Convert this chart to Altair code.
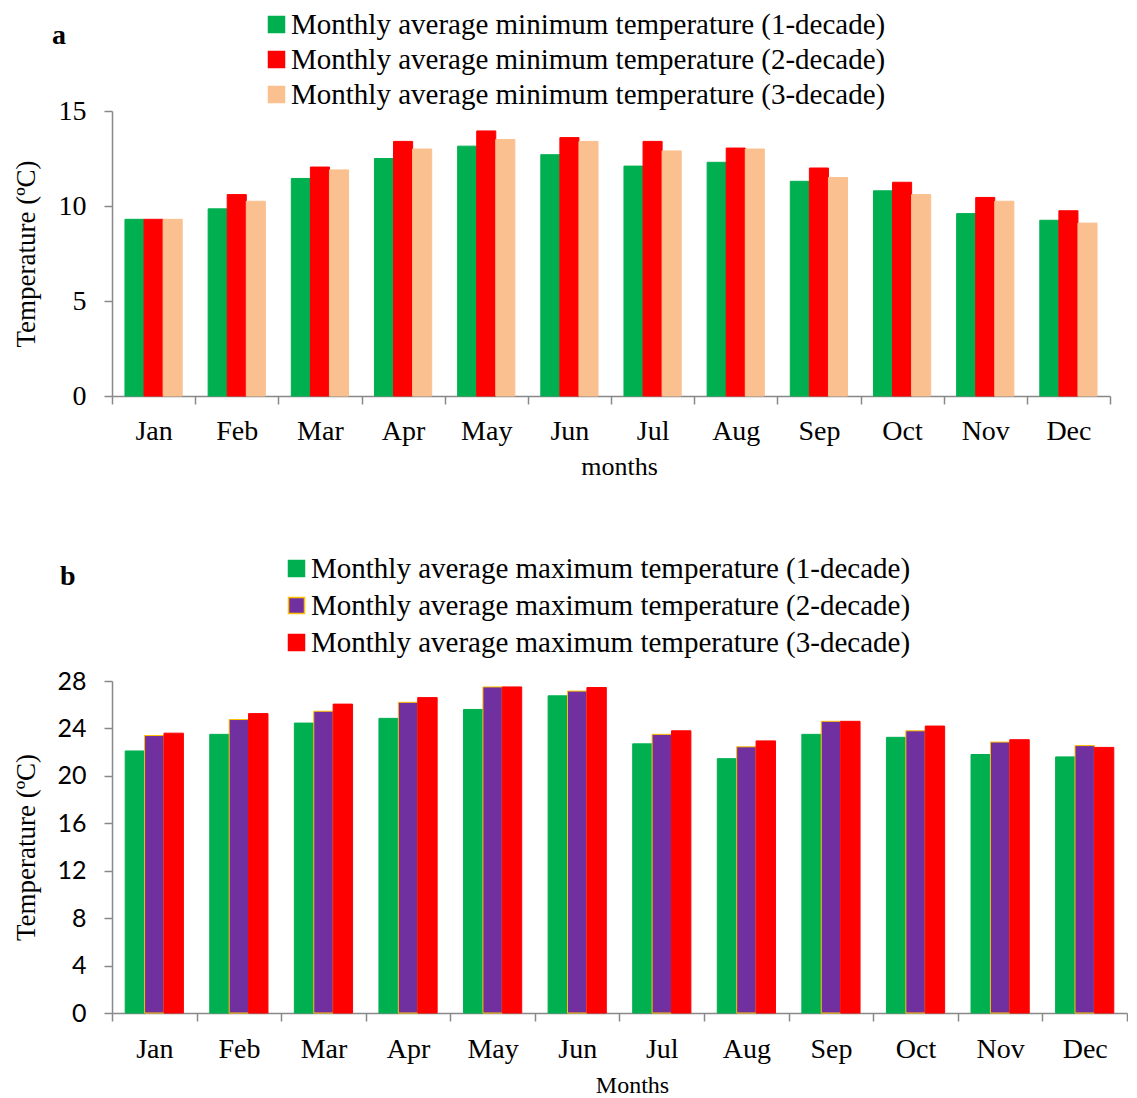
import altair as alt
import pandas as pd

months = ["Jan", "Feb", "Mar", "Apr", "May", "Jun", "Jul", "Aug", "Sep", "Oct", "Nov", "Dec"]

min_series = [
    "Monthly average minimum temperature (1-decade)",
    "Monthly average minimum temperature (2-decade)",
    "Monthly average minimum temperature (3-decade)",
]
min_1 = [9.3, 9.85, 11.45, 12.5, 13.15, 12.7, 12.1, 12.3, 11.3, 10.8, 9.6, 9.25]
min_2 = [9.3, 10.6, 12.05, 13.4, 13.95, 13.6, 13.4, 13.05, 12.0, 11.25, 10.45, 9.75]
min_3 = [9.3, 10.25, 11.9, 13.0, 13.5, 13.4, 12.9, 13.0, 11.5, 10.6, 10.25, 9.1]

max_series = [
    "Monthly average maximum temperature (1-decade)",
    "Monthly average maximum temperature (2-decade)",
    "Monthly average maximum temperature (3-decade)",
]
max_1 = [22.1, 23.5, 24.45, 24.85, 25.6, 26.75, 22.7, 21.45, 23.5, 23.25, 21.8, 21.6]
max_2 = [23.4, 24.75, 25.45, 26.2, 27.5, 27.15, 23.5, 22.45, 24.6, 23.8, 22.85, 22.55]
max_3 = [23.6, 25.25, 26.05, 26.6, 27.5, 27.45, 23.8, 22.95, 24.6, 24.2, 23.05, 22.4]

min_colors = ["#00b050", "#ff0000", "#fac090"]
min_strokes = ["#00b050", "#ff0000", "#fac090"]
max_colors = ["#00b050", "#7030a0", "#ff0000"]
max_strokes = ["#00b050", "#ffc000", "#ff0000"]

SERIF = "Liberation Serif"
AXIS_GRAY = "#888888"


def long_df(series, values):
    rows = []
    for s, vals in zip(series, values):
        for m, v in zip(months, vals):
            rows.append({"month": m, "series": s, "value": v})
    return pd.DataFrame(rows)


def panel(df, series, colors, strokes, width, height, ymax, ystep, ylabel_font,
          ylabel_size, ytitle_pad, xtitle, xtitle_size, xtitle_x, xlabel_pad,
          xtitle_pad, letter, legend_x, legend_y, legend_row_pad, letter_x,
          letter_y):
    legend = alt.Legend(
        orient="none", legendX=legend_x, legendY=legend_y, title=None,
        symbolType="square", symbolSize=256, symbolStrokeWidth=1.5,
        labelFont=SERIF, labelFontSize=29, labelColor="black",
        labelLimit=1000, rowPadding=legend_row_pad, labelOffset=0, padding=0,
    )
    enc = dict(
        x=alt.X("month:N", sort=months,
                scale=alt.Scale(paddingInner=0, paddingOuter=0),
                axis=alt.Axis(title=xtitle, tickBand="extent", labelAngle=0,
                              labelFont=SERIF, labelFontSize=28, labelColor="black",
                              labelPadding=xlabel_pad, titleFont=SERIF,
                              titleFontSize=xtitle_size, titleFontWeight="normal",
                              titleColor="black", titlePadding=xtitle_pad,
                              titleX=xtitle_x,
                              domainColor=AXIS_GRAY, domainWidth=1.5,
                              tickColor=AXIS_GRAY, tickWidth=1.5, tickSize=8)),
        xOffset=alt.XOffset("series:N", sort=series,
                            scale=alt.Scale(paddingInner=0, paddingOuter=0.68)),
        y=alt.Y("value:Q", scale=alt.Scale(domain=[0, ymax], nice=False),
                axis=alt.Axis(title="Temperature (ºC)",
                              values=list(range(0, ymax + 1, ystep)),
                              labelFont=ylabel_font, labelFontSize=ylabel_size,
                              labelColor="black", labelPadding=18,
                              titleFont=SERIF, titleFontSize=27,
                              titleFontWeight="normal", titleColor="black",
                              titlePadding=ytitle_pad, grid=False,
                              domainColor=AXIS_GRAY, domainWidth=1.5,
                              tickColor=AXIS_GRAY, tickWidth=1.5, tickSize=8)),
        color=alt.Color("series:N", sort=series,
                        scale=alt.Scale(domain=series, range=colors),
                        legend=legend),
        stroke=alt.Stroke("series:N", sort=series,
                          scale=alt.Scale(domain=series, range=strokes),
                          legend=legend),
    )
    bars = alt.Chart(df).mark_bar(strokeWidth=1).encode(**enc)
    letter_text = alt.Chart(pd.DataFrame({"label": [letter]})).mark_text(
        font=SERIF, fontSize=28, fontWeight="bold", align="left",
        baseline="alphabetic", color="black",
    ).encode(text="label:N", x=alt.value(letter_x), y=alt.value(letter_y))
    return alt.layer(bars, letter_text).properties(width=width, height=height)


top = panel(long_df(min_series, [min_1, min_2, min_3]), min_series, min_colors,
            min_strokes, 998, 285, 15, 5, SERIF, 28, 18, "months", 26, 507, 13, 8,
            "a", 150, -101, 5, -60, -67)
bottom = panel(long_df(max_series, [max_1, max_2, max_3]), max_series, max_colors,
               max_strokes, 1015, 332, 28, 4, "Lato", 25, 16, "Months", 24, 520, 14,
               10, "b", 170, -127, 7, -52, -96)

chart = alt.vconcat(top, bottom, spacing=75).resolve_scale(
    x="independent", y="independent", xOffset="independent",
    color="independent", stroke="independent",
).resolve_legend(color="independent", stroke="independent").properties(
    padding={"left": 4, "top": 2, "right": 0, "bottom": 0}
).configure_view(stroke=None)

chart.save("out.html", embed_options={"renderer": "svg", "actions": False})
